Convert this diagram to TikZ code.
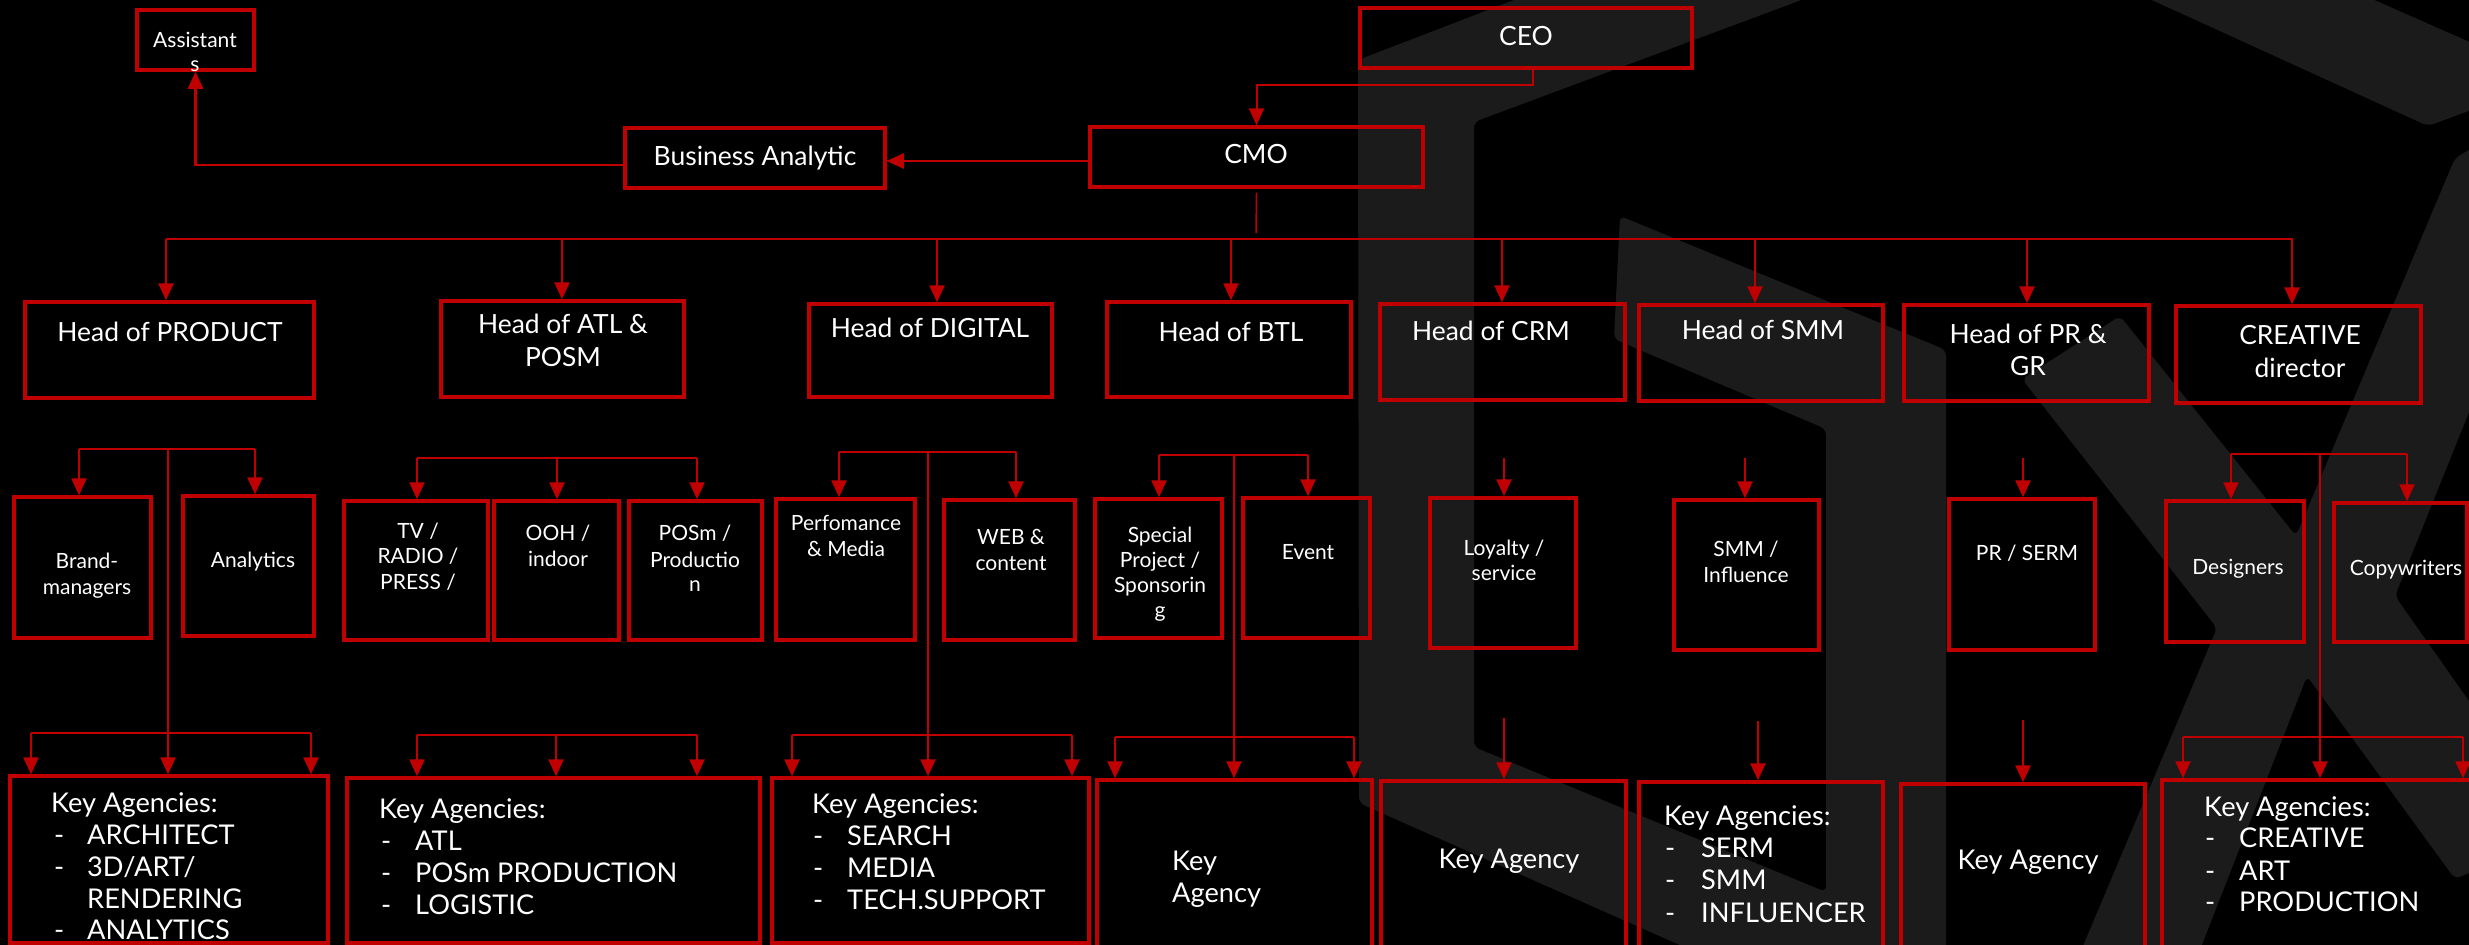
\documentclass[tikz,border=0pt]{standalone}
\usepackage{fontspec}
\setmainfont{Lato}
\usetikzlibrary{arrows.meta,fit}
\definecolor{rd}{RGB}{192,0,0}
\definecolor{logo}{RGB}{27,27,27}
\begin{document}
\begin{tikzpicture}[x=1pt,y=-1pt,
  box/.style={draw=rd, line width=3.5pt, inner sep=0pt},
  arr/.style={draw=rd, line width=2.5pt, -{Triangle[length=17pt,width=15pt]}},
  ln/.style={draw=rd, line width=2.5pt},
  hd/.style={text=white, font=\fontsize{26.4}{32}\selectfont, anchor=base, inner sep=0pt},
  tp/.style={text=white, font=\fontsize{26.5}{31}\selectfont, anchor=base, inner sep=0pt},
  sb/.style={text=white, font=\fontsize{21}{25}\selectfont, anchor=base, inner sep=0pt},
  ka/.style={text=white, font=\fontsize{27.2}{32}\selectfont, anchor=base west, inner sep=0pt},
  kc/.style={ka, anchor=base},
]
\useasboundingbox (0,0) rectangle (2469,945);
\fill[black] (0,0) rectangle (2469,945);
\clip (0,0) rectangle (2469,945);

% background logo
\fill[logo, rounded corners=6pt] (1566,-20) -- (1855,-20) -- (1474,122) -- (1474,747) -- (1826,892) -- (1826,429) -- (1614,339) -- (1620,216) -- (1946,350) -- (1946,965) -- (1725,965) -- (1359,803) -- (1358,60) -- cycle;
\fill[logo, rounded corners=6pt] (2108,-20) -- (2329,-20) -- (2490,51) -- (2490,103) -- (2428,126) -- cycle;
\fill[logo, rounded corners=6pt] (2120,316) -- (2296,536) -- (2455,158) -- (2490,138) -- (2490,360) -- (2395,596) -- (2490,731) -- (2490,864) -- (2455,879) -- (2307,676) -- (2194,965) -- (2075,965) -- (2217,628) -- (2022,379) -- cycle;

% top boxes
\node[box, fit={(137,10) (254,70)}] (asst) {};
\node[box, fit={(625,128) (885,188)}] (ba) {};
\node[box, fit={(1360,8) (1692,68)}] (ceo) {};
\node[box, fit={(1090,127) (1423,187)}] (cmo) {};
% heads
\node[box, fit={(25,302) (314,398)}] (h1) {};
\node[box, fit={(441,301) (684,397)}] (h2) {};
\node[box, fit={(809,304) (1052,397)}] (h3) {};
\node[box, fit={(1107,302) (1351,397)}] (h4) {};
\node[box, fit={(1380,304) (1625,400)}] (h5) {};
\node[box, fit={(1639,305) (1883,401)}] (h6) {};
\node[box, fit={(1904,305) (2149,401)}] (h7) {};
\node[box, fit={(2176,306) (2421,403)}] (h8) {};
% sub units
\node[box, fit={(14,497) (151,638)}] (s1) {};
\node[box, fit={(183,496) (314,636)}] (s2) {};
\node[box, fit={(344,501) (488,640)}] (s3) {};
\node[box, fit={(494,501) (619,640)}] (s4) {};
\node[box, fit={(629,501) (762,640)}] (s5) {};
\node[box, fit={(776,499) (915,640)}] (s6) {};
\node[box, fit={(944,500) (1075,640)}] (s7) {};
\node[box, fit={(1095,499) (1222,638)}] (s8) {};
\node[box, fit={(1243,498) (1370,638)}] (s9) {};
\node[box, fit={(1430,498) (1576,648)}] (s10) {};
\node[box, fit={(1674,500) (1819,650)}] (s11) {};
\node[box, fit={(1949,499) (2095,650)}] (s12) {};
\node[box, fit={(2166,501) (2304,642)}] (s13) {};
\node[box, fit={(2334,503) (2467,642)}] (s14) {};
% key agencies
\node[box, fit={(10,776) (328,943)}] (k1) {};
\node[box, fit={(347,778) (760,943)}] (k2) {};
\node[box, fit={(772,778) (1089,943)}] (k3) {};
\node[box, fit={(1097,780) (1372,990)}] (k4) {};
\node[box, fit={(1381,781) (1626,990)}] (k5) {};
\node[box, fit={(1639,782) (1883,990)}] (k6) {};
\node[box, fit={(1901,784) (2145,990)}] (k7) {};
\node[box, fit={(2162,780) (2490,990)}] (k8) {};

% top connectors
\coordinate (c1) at (1533,85);
\draw[arr, line width=2pt] ([xshift=7pt]ceo.south) -- (c1) -| (cmo.north);
\draw[arr] ([yshift=-4pt]cmo.west) -- ([yshift=-4pt]cmo.west -| ba.east);
\draw[arr] ([yshift=-7pt]ba.west) -| (asst.south);
\coordinate (cmob) at (1256,233);
\draw[rd, line width=1.5pt] ([yshift=-4pt]cmo.south) -- (cmob);
\coordinate (busL) at (166,239);
\coordinate (busR) at (2293,239);
\draw[rd, line width=2pt] (busL) -- (busR);
\foreach \x/\n in {166/h1, 562/h2, 937/h3, 1231/h4, 1502/h5, 1755/h6, 2027/h7, 2292/h8}{
  \coordinate (t\n) at (\x,239);
  \draw[arr] (t\n) -- (t\n |- \n.north);
}

% PRODUCT
\coordinate (p1a) at (79,449); \coordinate (p1b) at (255,449); \coordinate (p1m) at (168,449);
\draw[ln] (p1a) -- (p1b);
\draw[arr] (p1a) -- (p1a |- s1.north);
\draw[arr] (p1b) -- (p1b |- s2.north);
\draw[arr] (p1m) -- (p1m |- k1.north);
\coordinate (q1a) at (31,733); \coordinate (q1b) at (311,733);
\draw[ln] (q1a) -- (q1b);
\draw[arr] (q1a) -- (q1a |- k1.north);
\draw[arr] (q1b) -- (q1b |- k1.north);
% ATL
\coordinate (p2a) at (417,458); \coordinate (p2m) at (557,458); \coordinate (p2b) at (697,458);
\draw[ln] (p2a) -- (p2b);
\draw[arr] (p2a) -- (p2a |- s3.north);
\draw[arr] (p2m) -- (p2m |- s4.north);
\draw[arr] (p2b) -- (p2b |- s5.north);
\coordinate (q2a) at (417,735); \coordinate (q2m) at (556,735); \coordinate (q2b) at (697,735);
\draw[ln] (q2a) -- (q2b);
\draw[arr] (q2a) -- (q2a |- k2.north);
\draw[arr] (q2m) -- (q2m |- k2.north);
\draw[arr] (q2b) -- (q2b |- k2.north);
% DIGITAL
\coordinate (p3a) at (839,452); \coordinate (p3m) at (928,452); \coordinate (p3b) at (1016,452);
\draw[ln] (p3a) -- (p3b);
\draw[arr] (p3a) -- (p3a |- s6.north);
\draw[arr] (p3b) -- (p3b |- s7.north);
\draw[arr] (p3m) -- (p3m |- k3.north);
\coordinate (q3a) at (792,735); \coordinate (q3b) at (1072,735);
\draw[ln] (q3a) -- (q3b);
\draw[arr] (q3a) -- (q3a |- k3.north);
\draw[arr] (q3b) -- (q3b |- k3.north);
% BTL
\coordinate (p4a) at (1159,455); \coordinate (p4m) at (1234,455); \coordinate (p4b) at (1308,455);
\draw[ln] (p4a) -- (p4b);
\draw[arr] (p4a) -- (p4a |- s8.north);
\draw[arr] (p4b) -- (p4b |- s9.north);
\draw[arr] (p4m) -- (p4m |- k4.north);
\coordinate (q4a) at (1115,737); \coordinate (q4b) at (1354,737);
\draw[ln] (q4a) -- (q4b);
\draw[arr] (q4a) -- (q4a |- k4.north);
\draw[arr] (q4b) -- (q4b |- k4.north);
% CRM, SMM, PR
\coordinate (p5) at (1504,458); \coordinate (q5) at (1504,718);
\draw[arr] (p5) -- (p5 |- s10.north);
\draw[arr] (q5) -- (q5 |- k5.north);
\coordinate (p6) at (1745,458); \coordinate (q6) at (1758,721);
\draw[arr] (p6) -- (p6 |- s11.north);
\draw[arr] (q6) -- (q6 |- k6.north);
\coordinate (p7) at (2023,458); \coordinate (q7) at (2023,720);
\draw[arr] (p7) -- (p7 |- s12.north);
\draw[arr] (q7) -- (q7 |- k7.north);
% CREATIVE
\coordinate (p8a) at (2231,454); \coordinate (p8m) at (2320,454); \coordinate (p8b) at (2407,454);
\draw[ln] (p8a) -- (p8b);
\draw[arr] (p8a) -- (p8a |- s13.north);
\draw[arr] (p8b) -- (p8b |- s14.north);
\draw[arr] (p8m) -- (p8m |- k8.north);
\coordinate (q8a) at (2183,737); \coordinate (q8b) at (2463,737);
\draw[ln] (q8a) -- (q8b);
\draw[arr] (q8a) -- (q8a |- k8.north);
\draw[arr] (q8b) -- (q8b |- k8.north);

% texts top
\node[tp] (tceo) at (1526,45) {CEO};
\node[tp] (tcmo) at (1256,163) {CMO};
\node[tp] (tba) at (755,165) {Business Analytic};
\node[sb] (tas1) at (195,47) {Assistant};
\node[sb] (tas2) at (195,71) {s};
% heads
\node[hd] (th1) at (170,341.5) {Head of PRODUCT};
\node[hd] (th2a) at (563,333.5) {Head of ATL \&};
\node[hd] (th2b) at (563,366.5) {POSM};
\node[hd] (th3) at (930,337.5) {Head of DIGITAL};
\node[hd] (th4) at (1231,341.5) {Head of BTL};
\node[hd] (th5) at (1491,340.5) {Head of CRM};
\node[hd] (th6) at (1763,339.5) {Head of SMM};
\node[hd] (th7a) at (2028,343) {Head of PR \&};
\node[hd] (th7b) at (2028,375) {GR};
\node[hd] (th8a) at (2300,344) {CREATIVE};
\node[hd] (th8b) at (2300,377) {director};
% sub units
\node[sb] (ts1a) at (87,568) {Brand-};
\node[sb] (ts1b) at (87,594) {managers};
\node[sb] (ts2) at (253,567) {Analytics};
\node[sb] (ts3a) at (418,538) {TV /};
\node[sb] (ts3b) at (418,563) {RADIO /};
\node[sb] (ts3c) at (418,589) {PRESS /};
\node[sb] (ts4a) at (558,540) {OOH /};
\node[sb] (ts4b) at (558,566) {indoor};
\node[sb] (ts5a) at (695,540) {POSm /};
\node[sb] (ts5b) at (695,567) {Productio};
\node[sb] (ts5c) at (695,591) {n};
\node[sb] (ts6a) at (846,530) {Perfomance};
\node[sb] (ts6b) at (846,556) {\& Media};
\node[sb] (ts7a) at (1011,544) {WEB \&};
\node[sb] (ts7b) at (1011,570) {content};
\node[sb] (ts8a) at (1160,542) {Special};
\node[sb] (ts8b) at (1160,567) {Project /};
\node[sb] (ts8c) at (1160,592) {Sponsorin};
\node[sb] (ts8d) at (1160,617) {g};
\node[sb] (ts9) at (1308,559) {Event};
\node[sb] (ts10a) at (1504,555) {Loyalty /};
\node[sb] (ts10b) at (1504,580) {service};
\node[sb] (ts11a) at (1746,556) {SMM /};
\node[sb] (ts11b) at (1746,582) {Influence};
\node[sb] (ts12) at (2027,560) {PR / SERM};
\node[sb] (ts13) at (2238,574) {Designers};
\node[sb] (ts14) at (2406,575) {Copywriters};
% key agencies
\node[ka] (tk1) at (51,812) {Key Agencies:};
\node[ka] (tk1d1) at (54,844) {-}; \node[ka] (tk1i1) at (87,844) {ARCHITECT};
\node[ka] (tk1d2) at (54,876) {-}; \node[ka] (tk1i2) at (87,876) {3D/ART/};
\node[ka] (tk1i2b) at (87,908) {RENDERING};
\node[ka] (tk1d3) at (54,939) {-}; \node[ka] (tk1i3) at (87,939) {ANALYTICS};
\node[ka] (tk2) at (379,818) {Key Agencies:};
\node[ka] (tk2d1) at (381,850) {-}; \node[ka] (tk2i1) at (415,850) {ATL};
\node[ka] (tk2d2) at (381,882) {-}; \node[ka] (tk2i2) at (415,882) {POSm PRODUCTION};
\node[ka] (tk2d3) at (381,914) {-}; \node[ka] (tk2i3) at (415,914) {LOGISTIC};
\node[ka] (tk3) at (812,813) {Key Agencies:};
\node[ka] (tk3d1) at (813,845) {-}; \node[ka] (tk3i1) at (847,845) {SEARCH};
\node[ka] (tk3d2) at (813,877) {-}; \node[ka] (tk3i2) at (847,877) {MEDIA};
\node[ka] (tk3d3) at (813,909) {-}; \node[ka] (tk3i3) at (847,909) {TECH.SUPPORT};
\node[ka] (tk4a) at (1172,870) {Key};
\node[ka] (tk4b) at (1172,902) {Agency};
\node[kc] (tk5) at (1509,868.5) {Key Agency};
\node[ka] (tk6) at (1664,825) {Key Agencies:};
\node[ka] (tk6d1) at (1665,857) {-}; \node[ka] (tk6i1) at (1701,857) {SERM};
\node[ka] (tk6d2) at (1665,889) {-}; \node[ka] (tk6i2) at (1701,889) {SMM};
\node[ka] (tk6d3) at (1665,922) {-}; \node[ka] (tk6i3) at (1701,922) {INFLUENCER};
\node[kc] (tk7) at (2028,869) {Key Agency};
\node[ka] (tk8) at (2204,816) {Key Agencies:};
\node[ka] (tk8d1) at (2205,847.5) {-}; \node[ka] (tk8i1) at (2239,847.5) {CREATIVE};
\node[ka] (tk8d2) at (2205,880) {-}; \node[ka] (tk8i2) at (2239,880) {ART};
\node[ka] (tk8d3) at (2205,911.5) {-}; \node[ka] (tk8i3) at (2239,911.5) {PRODUCTION};
\end{tikzpicture}
\end{document}
